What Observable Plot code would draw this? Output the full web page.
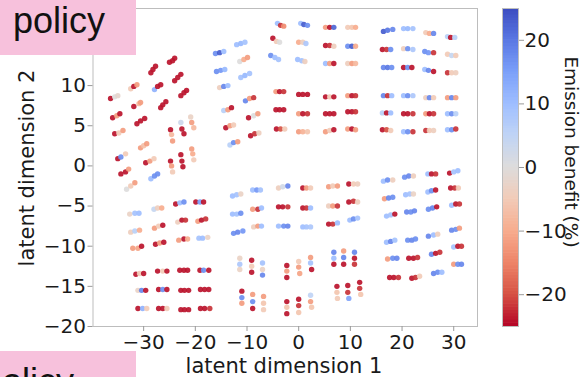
<!DOCTYPE html>
<html><head><meta charset="utf-8">
<script src="https://cdn.jsdelivr.net/npm/d3@7"></script>
<script src="https://cdn.jsdelivr.net/npm/@observablehq/plot@0.6"></script>
<style>
body{margin:0;background:#fff;}
#wrap{position:relative;width:582px;height:377px;overflow:hidden;font-family:"DejaVu Sans",sans-serif;color:#1a1a1a;}
#wrap svg{position:absolute;top:0;}
.lab{position:absolute;white-space:nowrap;font-size:21px;line-height:21px;}
.pol{position:absolute;left:0;width:136px;background:#f7c1dc;overflow:hidden;}
.pol span{position:absolute;font-family:"Liberation Sans",Arial,sans-serif;font-size:36px;line-height:36px;color:#111;white-space:nowrap;}
</style></head><body><div id="wrap"></div>
<script>
// each point: [latent dimension 1, latent dimension 2, emission benefit %]
const groupA = [
[-25.0,12.9,-24],[-24.4,13.1,-24],[-24.0,13.4,-24],
[-28.6,11.6,-24],[-28.2,12.0,-24],[-27.7,12.4,-24],
[-32.5,9.6,-5],[-31.9,9.9,-24],[-31.3,10.1,-12],
[-36.4,8.4,-24],[-35.6,8.6,0],[-35.0,8.75,-2],
[-27.9,9.5,12],[-27.3,9.9,-24],[-26.7,10.1,-24],
[-24.0,10.6,-24],[-23.4,11.0,-24],[-22.8,11.4,-24],
[-31.9,7.4,-24],[-30.9,7.75,-8],[-30.6,7.9,-12],
[-26.7,7.25,-24],[-26.3,7.6,-24],[-25.7,8.0,-24],
[-22.8,8.75,-24],[-22.2,9.1,-24],[-21.7,9.4,-24],
[-36.0,6.0,-24],[-35.2,6.25,-12],[-34.6,6.5,-24],
[-31.3,5.25,-24],[-30.6,5.6,-24],[-29.8,5.9,-24],
[-35.6,4.0,-24],[-34.8,4.1,-5],[-34.0,4.4,-12],
[-24.8,4.5,-24],[-24.6,3.9,-8],[-24.4,3.1,-12],
[-22.8,5.4,3],[-22.6,4.6,-24],[-22.2,4.0,-24],
[-20.9,6.1,-3],[-20.7,5.4,-12],[-20.3,4.75,-8],
[-30.6,2.25,-12],[-30.0,2.5,-7],[-29.4,2.75,-12],
[-35.0,0.9,-24],[-34.4,1.1,17],[-33.5,1.5,-5],
[-29.6,0.4,-24],[-28.8,0.6,-12],[-28.0,0.9,-5],
[-24.8,0.6,-24],[-24.6,0,-12],[-24.4,-0.75,-5],
[-22.8,1.4,-24],[-22.6,0.6,-24],[-22.4,-0.1,-24],
[-20.7,2.1,-12],[-20.5,1.5,-10],[-20.3,0.75,-5],
[-34.4,-1.0,-24],[-33.5,-0.75,-24],[-32.9,-0.4,-12],
[-28.6,-1.6,10],[-27.9,-1.25,17],[-27.3,-1.0,17],
[-33.3,-2.9,0],[-32.5,-2.5,-5],[-31.7,-2.1,-12]
];
const groupB = [
[-16.1,14.0,17],[-15.3,14.1,23],[-14.5,14.25,10],
[-12.0,15.1,10],[-11.2,15.25,11],[-10.4,15.4,9],
[-15.9,11.75,17],[-15.1,11.9,16],[-14.3,12.0,11],
[-11.4,13.0,0],[-10.6,13.25,-10],[-9.9,13.5,-12],
[-15.3,9.75,-4],[-14.5,9.9,18],[-13.7,10.0,10],
[-11.2,11.0,9],[-10.4,11.25,11],[-9.5,11.5,9],
[-14.5,6.9,6],[-13.7,7.0,-12],[-13.0,7.25,-24],
[-10.3,8.1,18],[-9.5,8.4,-12],[-8.7,8.5,-22],
[-14.1,4.75,-24],[-13.3,5.0,-12],[-12.6,5.1,-5],
[-9.7,6.0,-24],[-8.7,6.25,0],[-7.9,6.5,-12],
[-13.3,2.6,6],[-12.6,2.9,17],[-11.8,3.0,-12],
[-9.3,3.75,-24],[-8.5,4.0,-22],[-7.7,4.1,-4]
];
const groupC = [
[-4.1,17.75,10],[-3.5,17.5,-22],[-2.9,17.4,-14],
[0.4,17.75,10],[1.0,17.6,23],[1.7,17.5,17],
[5.2,17.25,-12],[6.0,17.25,-24],[6.8,17.25,22],
[9.5,17.25,-5],[10.3,17.25,-6],[11.0,17.25,-10],
[16.4,16.75,23],[17.2,16.9,20],[18.2,17.0,18],
[20.3,17.1,10],[21.1,17.1,11],[22.1,17.1,9],
[24.6,16.6,-5],[25.3,16.5,-10],[26.1,16.5,18],
[28.8,16.1,6],[29.4,16.0,-24],[30.2,16.0,6],
[-5.0,15.9,-24],[-4.3,15.5,-5],[-3.7,15.4,0],
[0,15.4,-10],[0.8,15.4,-4],[1.4,15.25,8],
[5.2,15.0,-24],[6.0,15.0,-22],[6.8,14.9,-4],
[9.5,14.9,17],[10.3,14.9,23],[11.0,14.9,-10],
[16.2,14.5,-24],[17.0,14.5,-22],[17.8,14.5,17],
[20.3,14.6,-4],[21.1,14.6,17],[22.1,14.5,8],
[24.4,14.25,17],[25.1,14.1,16],[26.1,14.1,-22],
[28.8,13.9,-5],[29.6,13.75,4],[30.4,13.75,-5],
[-5.4,13.75,17],[-4.6,13.5,10],[-3.9,13.25,9],
[-0.2,13.25,10],[0.6,13.1,9],[1.2,13.0,-4],
[5.2,12.75,10],[6.0,12.75,-12],[6.8,12.75,-24],
[9.5,12.75,-4],[10.3,12.75,-12],[11.0,12.75,-8],
[16.4,12.25,18],[17.2,12.25,20],[18.0,12.25,17],
[20.3,12.25,-24],[21.1,12.25,17],[21.9,12.25,-24],
[24.4,12.0,10],[25.1,11.9,18],[26.1,11.75,-24],
[28.8,11.6,-22],[29.6,11.6,-5],[30.4,11.6,-4]
];
const groupD = [
[-4.4,9.25,-12],[-3.7,9.25,-24],[-2.9,9.25,-22],
[0,8.9,-24],[0.8,8.9,-24],[1.7,8.9,-24],
[5.2,8.6,-24],[6.0,8.6,-5],[6.8,8.6,-24],
[9.5,8.75,-12],[10.3,8.75,-24],[11.0,8.75,-22],
[16.4,8.75,18],[17.2,8.75,-22],[18.0,8.75,10],
[20.3,8.75,10],[21.1,8.75,17],[22.1,8.75,8],
[24.6,8.5,-4],[25.3,8.5,18],[26.1,8.5,-5],
[28.8,8.5,-12],[29.6,8.5,18],[30.4,8.5,-12],
[-4.4,7.0,-24],[-3.7,7.0,-24],[-2.9,7.0,-24],
[0,6.5,-12],[0.8,6.5,-24],[1.7,6.5,-22],
[5.2,6.5,-24],[6.0,6.5,-24],[6.8,6.5,-24],
[9.5,6.75,-24],[10.3,6.75,-24],[11.0,6.75,-22],
[16.2,6.6,6],[17.0,6.6,-24],[17.8,6.6,10],
[20.3,6.5,-24],[21.1,6.5,-24],[22.1,6.5,-22],
[24.6,6.5,-12],[25.3,6.5,-24],[26.1,6.5,-22],
[28.8,6.5,10],[29.6,6.5,17],[30.4,6.5,6],
[-4.3,4.6,-24],[-3.5,4.6,-20],[-2.7,4.6,-5],
[0,4.25,-12],[0.8,4.25,-9],[1.7,4.25,-6],
[5.2,4.25,-12],[6.0,4.4,-5],[6.8,4.5,-24],
[9.5,4.6,-12],[10.3,4.6,-24],[11.0,4.5,-12],
[16.2,4.5,-24],[17.0,4.5,-20],[17.8,4.4,-5],
[20.3,4.25,10],[21.1,4.25,17],[22.1,4.25,-22],
[24.6,4.4,-22],[25.3,4.4,-5],[26.1,4.4,-4],
[28.8,4.5,10],[29.6,4.5,17],[30.4,4.6,-22]
];
const groupE = [
[-32.7,-6.0,-3],[-31.7,-5.9,9],[-30.9,-5.9,10],
[-28.0,-5.4,4],[-27.3,-5.25,-4],[-26.5,-5.25,-10],
[-23.8,-4.75,-24],[-23.0,-4.6,10],[-22.2,-4.5,17],
[-19.9,-4.5,-24],[-19.1,-4.5,15],[-18.4,-4.5,-24],
[-32.5,-8.25,-4],[-31.7,-8.1,6],[-30.8,-8.0,-10],
[-27.9,-7.75,-12],[-27.1,-7.5,-5],[-26.3,-7.4,-24],
[-23.4,-7.0,-4],[-22.6,-6.75,-24],[-21.9,-6.75,-22],
[-19.5,-6.9,-12],[-18.8,-6.75,-24],[-18.0,-6.6,-22],
[-32.1,-10.25,-12],[-31.1,-10.25,-11],[-30.4,-10.0,-24],
[-27.7,-9.75,-24],[-26.9,-9.6,-12],[-26.1,-9.5,-24],
[-23.2,-9.25,-12],[-22.2,-9.1,-24],[-21.5,-9.1,-10],
[-19.3,-9.0,9],[-18.6,-9.0,10],[-17.6,-8.9,-3]
];
const groupF = [
[-31.5,-13.5,-24],[-30.8,-13.4,-5],[-30.0,-13.4,-24],
[-27.3,-13.1,-24],[-26.3,-13.1,-5],[-25.5,-13.1,-24],
[-23.0,-13.0,-24],[-22.2,-13.0,-24],[-21.5,-13.0,-24],
[-19.1,-13.0,-24],[-18.4,-13.0,17],[-17.4,-13.0,-24],
[-31.1,-15.5,-3],[-30.4,-15.5,18],[-29.6,-15.5,-24],
[-27.1,-15.4,-24],[-26.3,-15.4,17],[-25.5,-15.4,-24],
[-22.8,-15.5,-24],[-22.1,-15.5,-24],[-21.3,-15.5,-24],
[-19.0,-15.4,-24],[-18.2,-15.4,-24],[-17.4,-15.4,-24],
[-31.1,-17.75,-24],[-30.2,-17.75,12],[-29.4,-17.75,-5],
[-27.1,-17.75,-24],[-26.3,-17.75,-24],[-25.5,-17.75,-5],
[-22.8,-17.9,-24],[-22.1,-17.9,-24],[-21.3,-17.9,-24],
[-19.0,-17.75,-24],[-18.2,-17.75,-24],[-17.2,-17.75,-22]
];
const groupG = [
[-12.8,-3.75,10],[-12.0,-3.6,9],[-11.2,-3.5,-3],
[-8.9,-3.0,10],[-8.1,-3.0,16],[-7.4,-3.0,9],
[-3.9,-2.75,-4],[-3.1,-2.6,2],[-2.1,-2.5,18],
[0.8,-2.75,-24],[1.5,-2.75,-12],[2.3,-2.75,-5],
[5.8,-2.6,-12],[6.6,-2.5,-5],[7.5,-2.5,-12],
[9.7,-2.25,-24],[10.6,-2.25,-5],[11.4,-2.25,-4],
[-12.8,-6.0,10],[-12.0,-6.0,9],[-11.2,-5.9,17],
[-8.9,-5.4,-12],[-7.9,-5.4,-22],[-7.2,-5.25,10],
[-3.9,-5.1,-24],[-3.1,-5.1,-24],[-2.1,-5.1,-22],
[0.8,-5.25,-24],[1.5,-5.25,-22],[2.3,-5.25,10],
[5.8,-5.0,-4],[6.6,-5.0,-12],[7.5,-5.0,-22],
[9.7,-4.5,-24],[10.6,-4.4,-22],[11.4,-4.5,-4],
[-12.6,-8.4,17],[-11.8,-8.25,18],[-10.8,-8.1,16],
[-8.7,-7.6,-4],[-7.9,-7.5,-12],[-7.2,-7.5,10],
[-3.9,-7.5,10],[-2.9,-7.5,17],[-2.1,-7.5,18],
[0.8,-7.6,10],[1.5,-7.6,9],[2.3,-7.6,8],
[5.8,-7.25,-24],[6.6,-7.25,-22],[7.5,-7.1,10],
[9.9,-6.75,10],[10.6,-6.6,17],[11.4,-6.5,9]
];
const groupH = [
[16.4,-1.9,10],[17.2,-1.75,17],[18.2,-1.75,-4],
[20.5,-1.4,17],[21.3,-1.25,18],[22.2,-1.25,-4],
[25.0,-1.0,10],[25.7,-1.0,-24],[26.5,-1.0,-22],
[29.2,-0.9,-24],[30.0,-0.75,9],[30.8,-0.6,10],
[16.6,-4.1,-12],[17.4,-4.0,18],[18.2,-3.9,17],
[20.7,-3.6,10],[21.5,-3.5,9],[22.2,-3.5,-3],
[25.0,-3.25,10],[25.7,-3.1,17],[26.5,-3.0,-24],
[29.4,-2.75,-24],[30.2,-2.75,-22],[30.9,-2.75,-5],
[17.0,-6.25,10],[17.8,-6.1,9],[18.6,-6.0,-24],
[20.9,-5.75,18],[21.7,-5.75,17],[22.4,-5.6,18],
[25.1,-5.4,17],[25.9,-5.25,18],[26.7,-5.1,-24],
[29.6,-4.9,10],[30.4,-4.75,-24],[31.1,-4.75,-22]
];
const groupI = [
[17.0,-9.5,10],[17.8,-9.4,18],[18.6,-9.25,9],
[21.1,-9.25,17],[21.9,-9.25,18],[22.6,-9.1,17],
[25.1,-8.75,18],[26.1,-8.6,10],[26.9,-8.5,-4],
[29.6,-8.0,18],[30.4,-7.9,17],[31.1,-7.75,-12],
[17.2,-11.6,-12],[18.2,-11.5,17],[19.0,-11.5,18],
[21.3,-11.5,-24],[22.2,-11.5,-24],[23.0,-11.4,-22],
[25.7,-11.0,18],[26.5,-10.9,-24],[27.3,-10.75,-22],
[30.0,-10.1,9],[30.8,-10.0,-24],[31.5,-10.0,-22],
[17.6,-13.9,-24],[18.4,-13.9,-24],[19.3,-13.9,-22],
[21.9,-14.0,-24],[22.6,-13.9,-22],[23.4,-13.75,-5],
[26.1,-13.4,18],[26.9,-13.25,17],[27.7,-13.25,10],
[30.0,-12.25,-12],[30.8,-12.25,17],[31.5,-12.25,18]
];
const groupJ = [
[-11.4,-11.5,-3],[-11.4,-12.25,8],[-11.4,-12.9,-3],
[-9.1,-11.75,-24],[-9.1,-12.5,-5],[-9.1,-13.25,-24],
[-7.0,-12.1,9],[-7.0,-12.9,-3],[-7.0,-13.6,18],
[-2.3,-12.4,-24],[-2.3,-13.1,-12],[-2.3,-13.9,-24],
[0,-11.9,-5],[0,-12.6,-12],[0.2,-13.4,-11],
[2.3,-11.4,-12],[2.3,-12.1,9],[2.5,-12.9,-24],
[6.8,-10.75,18],[6.8,-11.5,10],[6.8,-12.25,-24],
[8.7,-10.6,-12],[8.7,-11.4,18],[8.7,-12.25,-24],
[10.8,-10.75,18],[10.8,-11.5,-24],[10.8,-12.25,-22],
[-11.0,-15.6,-24],[-11.0,-16.4,17],[-11.0,-17.1,-12],
[-8.9,-16.0,-12],[-8.9,-16.9,17],[-8.9,-17.75,-24],
[-6.8,-16.25,-12],[-6.8,-17.1,-6],[-6.8,-17.9,-5],
[-2.3,-16.9,-24],[-2.3,-17.6,-6],[-2.3,-18.4,-24],
[0,-16.6,-24],[0,-17.4,-22],[0,-18.25,-6],
[2.3,-16.1,5],[2.3,-16.9,-12],[2.5,-17.6,-6],
[7.4,-15.0,-24],[7.4,-15.75,-6],[7.5,-16.5,-5],
[9.5,-14.9,-24],[9.5,-15.75,-22],[9.7,-16.5,14],
[11.8,-14.5,-24],[11.8,-15.25,-22],[12.0,-16.0,-6]
];
const xTicks = [-30, -20, -10, 0, 10, 20, 30];
const yTicks = [-20, -15, -10, -5, 0, 5, 10];
const cbTicks = [-20, -10, 0, 10, 20];
const cbStops = [-25, -20, -15, -10, -5, 0, 5, 10, 15, 20, 25];
const cbColors = ["#b40426","#d65244","#ee8468","#f7ac8e","#f2cbb7","#dddcdc","#c0d4f5","#9ebeff","#7b9ff9","#5977e3","#3b4cc0"];
const xLabel = "latent dimension 1";
const yLabel = "latent dimension 2";
const cbLabel = "Emission benefit (%)";
const tagText = "policy";

const points = [...groupA, ...groupB, ...groupC, ...groupD, ...groupE, ...groupF, ...groupG, ...groupH, ...groupI, ...groupJ];
const fmt = d => d < 0 ? "\u2212" + Math.abs(d) : String(d);
const colorScale = {type: "linear", domain: cbStops, range: cbColors, interpolate: "rgb"};
const grey = "#bdbdbd";
const ink = "#1a1a1a";

const main = Plot.plot({
  width: 582, height: 377,
  marginLeft: 92.5, marginRight: 105, marginTop: 8, marginBottom: 51,
  x: {domain: [-39.8, 34.6]},
  y: {domain: [-20, 19.6]},
  color: colorScale,
  style: {fontFamily: "DejaVu Sans", fontSize: "20px", color: ink, background: "transparent"},
  marks: [
    Plot.frame({stroke: grey}),
    Plot.dot(points, {x: d => d[0], y: d => d[1], fill: d => d[2], r: 2.7, fillOpacity: 0.92}),
    Plot.axisX({ticks: xTicks, tickSize: 5, tickPadding: 3, stroke: "#9a9a9a", fill: ink, fontSize: 20, label: null, tickFormat: fmt}),
    Plot.axisY({ticks: yTicks, tickSize: 5, tickPadding: 2, stroke: "#9a9a9a", fill: ink, fontSize: 20, label: null, tickFormat: fmt})
  ]
});

const cb = Plot.plot({
  width: 102, height: 377,
  marginLeft: 22, marginRight: 64, marginTop: 8, marginBottom: 51,
  x: {domain: [0, 1], axis: null},
  y: {domain: [-25, 25]},
  color: colorScale,
  style: {fontFamily: "DejaVu Sans", fontSize: "20px", color: ink, background: "transparent"},
  marks: [
    Plot.rect(d3.range(-25, 25, 0.5), {x1: () => 0, x2: () => 1, y1: d => d, y2: d => Math.min(25, d + 0.6), fill: d => d + 0.25}),
    Plot.frame({stroke: grey}),
    Plot.axisY({anchor: "right", ticks: cbTicks, tickSize: 5, tickPadding: 1, stroke: "#9a9a9a", fill: ink, fontSize: 20, label: null, tickFormat: fmt})
  ]
});
cb.style.left = "480px";
main.style.left = "0px";

const wrap = document.getElementById("wrap");
wrap.appendChild(main);
wrap.appendChild(cb);

function addLabel(text, css) {
  const d = document.createElement("div");
  d.className = "lab";
  d.textContent = text;
  Object.assign(d.style, css);
  wrap.appendChild(d);
}
addLabel(xLabel, {left: "284px", top: "356px", transform: "translateX(-50%)"});
addLabel(yLabel, {left: "27px", top: "168px", transform: "translate(-50%,-50%) rotate(-90deg)"});
addLabel(cbLabel, {left: "571px", top: "152px", fontSize: "18.5px", lineHeight: "19px", transform: "translate(-50%,-50%) rotate(90deg)"});

function addTag(top, height, textLeft, textTop) {
  const b = document.createElement("div");
  b.className = "pol";
  b.style.top = top + "px";
  b.style.height = height + "px";
  const s = document.createElement("span");
  s.textContent = tagText;
  s.style.left = textLeft + "px";
  s.style.top = textTop + "px";
  b.appendChild(s);
  wrap.appendChild(b);
}
addTag(0, 55, 13, 2.5);
addTag(351, 26, -18, 12.5);
</script></body></html>
